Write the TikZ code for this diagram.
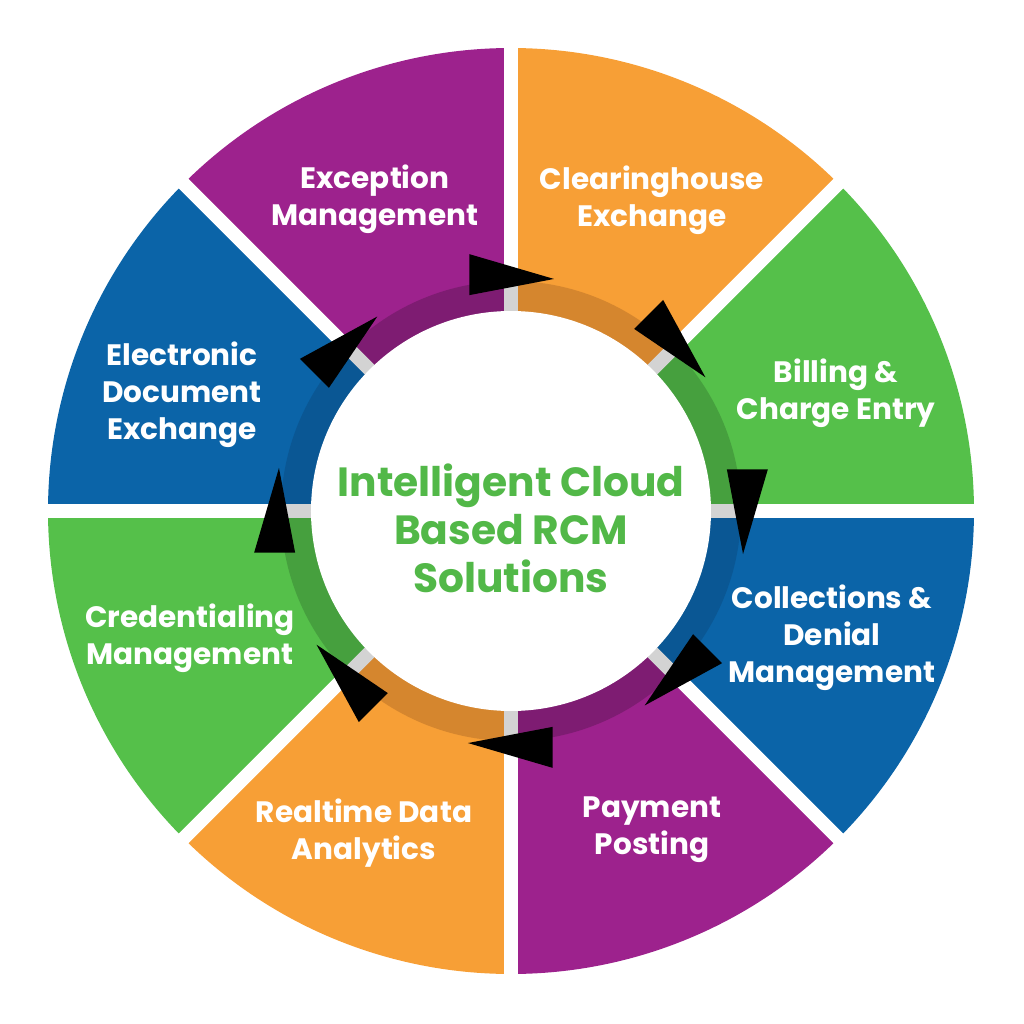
\documentclass[tikz,border=0pt]{standalone}
\usepackage{fontspec}
\setmainfont{Poppins}
\usepackage{tikz}
\usetikzlibrary{calc}

\definecolor{purp}{HTML}{9D228D}
\definecolor{purpD}{HTML}{7E1C72}
\definecolor{orng}{HTML}{F79F36}
\definecolor{orngD}{HTML}{D5862E}
\definecolor{grn}{HTML}{55C04A}
\definecolor{grnD}{HTML}{46A03E}
\definecolor{blu}{HTML}{0B64A8}
\definecolor{bluD}{HTML}{0A5794}
\definecolor{gry}{HTML}{D3D3D3}
\definecolor{hubgreen}{HTML}{52B848}

\tikzset{
  lbl/.style={text=white, align=center, font=\fontsize{8.4}{10.5}\selectfont\bfseries},
  hubtext/.style={text=hubgreen, align=center, font=\fontsize{11.6}{13.7}\selectfont\bfseries},
  gapw/.style={white, line width=0.135cm},
  gapg/.style={gry, line width=0.135cm}
}

\begin{document}
\begin{tikzpicture}
      \useasboundingbox (-5.11,-5.13) rectangle (5.13,5.11);
      
      % outer sectors
      \fill[orng] (0,0) -- (45:4.63) arc (45:90:4.63) -- cycle;
      \fill[grn] (0,0) -- (0:4.63) arc (0:45:4.63) -- cycle;
      \fill[blu] (0,0) -- (-45:4.63) arc (-45:0:4.63) -- cycle;
      \fill[purp] (0,0) -- (-90:4.63) arc (-90:-45:4.63) -- cycle;
      \fill[orng] (0,0) -- (-135:4.63) arc (-135:-90:4.63) -- cycle;
      \fill[grn] (0,0) -- (-180:4.63) arc (-180:-135:4.63) -- cycle;
      \fill[blu] (0,0) -- (135:4.63) arc (135:180:4.63) -- cycle;
      \fill[purp] (0,0) -- (90:4.63) arc (90:135:4.63) -- cycle;
      
      % inner ring, darker
      \fill[orngD] (0,0) -- (45:2.30) arc (45:90:2.30) -- cycle;
      \fill[grnD] (0,0) -- (0:2.30) arc (0:45:2.30) -- cycle;
      \fill[bluD] (0,0) -- (-45:2.30) arc (-45:0:2.30) -- cycle;
      \fill[purpD] (0,0) -- (-90:2.30) arc (-90:-45:2.30) -- cycle;
      \fill[orngD] (0,0) -- (-135:2.30) arc (-135:-90:2.30) -- cycle;
      \fill[grnD] (0,0) -- (-180:2.30) arc (-180:-135:2.30) -- cycle;
      \fill[bluD] (0,0) -- (135:2.30) arc (135:180:2.30) -- cycle;
      \fill[purpD] (0,0) -- (90:2.30) arc (90:135:2.30) -- cycle;
      
      % gaps
      \draw[gapw] (90:2.25) -- (90:4.8);
      \draw[gapw] (45:2.25) -- (45:4.8);
      \draw[gapw] (0:2.25) -- (0:4.8);
      \draw[gapw] (-45:2.25) -- (-45:4.8);
      \draw[gapw] (-90:2.25) -- (-90:4.8);
      \draw[gapw] (-135:2.25) -- (-135:4.8);
      \draw[gapw] (180:2.25) -- (180:4.8);
      \draw[gapw] (135:2.25) -- (135:4.8);
      
      \draw[gapg] (90:1.9) -- (90:2.30);
      \draw[gapg] (45:1.9) -- (45:2.30);
      \draw[gapg] (0:1.9) -- (0:2.30);
      \draw[gapg] (-45:1.9) -- (-45:2.30);
      \draw[gapg] (-90:1.9) -- (-90:2.30);
      \draw[gapg] (-135:1.9) -- (-135:2.30);
      \draw[gapg] (180:1.9) -- (180:2.30);
      \draw[gapg] (135:1.9) -- (135:2.30);
      
      \fill[white] (0,0) circle (2.0);
      
      % arrowheads, clockwise
      \fill ($(100:2.40)+(90:0.205)$) -- ($(100:2.40)-(90:0.205)$) -- (79.5:2.36) -- cycle;
      \fill ($(55:2.40)+(45:0.205)$) -- ($(55:2.40)-(45:0.205)$) -- (34.5:2.36) -- cycle;
      \fill ($(10:2.40)+(0:0.205)$) -- ($(10:2.40)-(0:0.205)$) -- (-10.5:2.36) -- cycle;
      \fill ($(-35:2.40)+(-45:0.205)$) -- ($(-35:2.40)-(-45:0.205)$) -- (-55.5:2.36) -- cycle;
      \fill ($(-80:2.40)+(-90:0.205)$) -- ($(-80:2.40)-(-90:0.205)$) -- (-100.5:2.36) -- cycle;
      \fill ($(-125:2.40)+(-135:0.205)$) -- ($(-125:2.40)-(-135:0.205)$) -- (-145.5:2.36) -- cycle;
      \fill ($(190:2.40)+(180:0.205)$) -- ($(190:2.40)-(180:0.205)$) -- (169.5:2.36) -- cycle;
      \fill ($(145:2.40)+(135:0.205)$) -- ($(145:2.40)-(135:0.205)$) -- (124.5:2.36) -- cycle;
      
      % labels
      \node[hubtext] (hub) at (0,-0.17) {Intelligent Cloud\\Based RCM\\Solutions};
      
      \node[lbl] (clearing) at (1.41,3.11) {Clearinghouse\\Exchange};
      \node[lbl] (billing) at (3.25,1.18) {Billing \&\\Charge Entry};
      \node[lbl] (collect) at (3.21,-1.27) {Collections \&\\Denial\\Management};
      \node[lbl] (payment) at (1.41,-3.19) {Payment\\Posting};
      \node[lbl] (realtime) at (-1.47,-3.22) {Realtime Data\\Analytics};
      \node[lbl] (cred) at (-3.21,-1.27) {Credentialing\\Management};
      \node[lbl] (edoc) at (-3.29,1.16) {Electronic\\Document\\Exchange};
      \node[lbl] (except) at (-1.36,3.12) {Exception\\Management};
  \end{tikzpicture}
\end{document}
